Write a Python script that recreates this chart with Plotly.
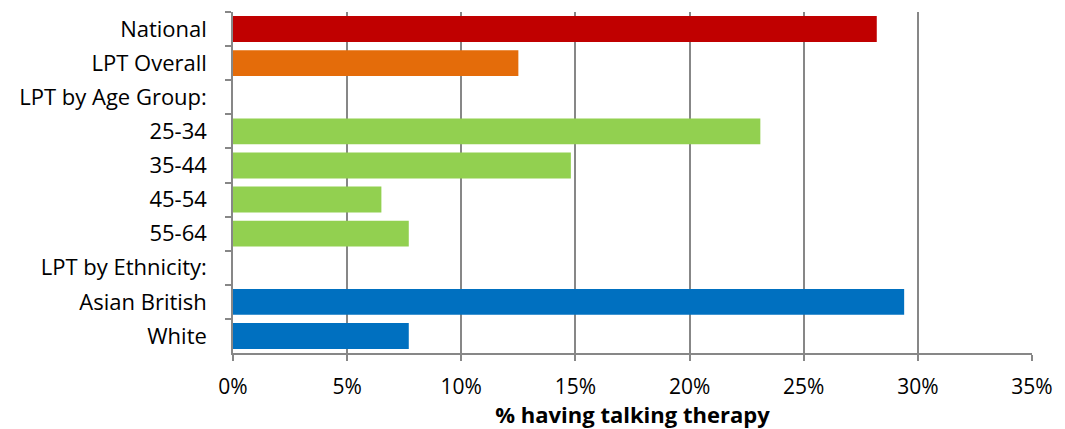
import plotly.graph_objects as go

categories = ["National", "LPT Overall", "LPT by Age Group:", "25-34", "35-44",
              "45-54", "55-64", "LPT by Ethnicity:", "Asian British", "White"]
values = [0.282, 0.125, None, 0.231, 0.148, 0.065, 0.077, None, 0.294, 0.077]
colors = ["#C00000", "#E46C0A", "#FFFFFF", "#92D050", "#92D050",
          "#92D050", "#92D050", "#FFFFFF", "#0070C0", "#0070C0"]
x_ticks = [0, 0.05, 0.10, 0.15, 0.20, 0.25, 0.30, 0.35]
x_title = "% having talking therapy"

font_family = "'Open Sans', Lato, sans-serif"
grid_col = "#878787"

fig = go.Figure(go.Bar(
    x=values, y=categories, orientation="h",
    marker=dict(color=colors, line=dict(width=0)),
    hoverinfo="x+y",
))

fig.update_layout(
    width=1065, height=429,
    margin=dict(l=233, r=30, t=12, b=76),
    paper_bgcolor="white", plot_bgcolor="white",
    bargap=0.24,
    showlegend=False,
    font=dict(family=font_family, size=22, color="#000000"),
)

fig.update_xaxes(
    range=[0, 0.35], tickvals=x_ticks, tickformat=".0%",
    showgrid=True, gridcolor=grid_col, gridwidth=1.5,
    showline=True, linecolor=grid_col, linewidth=1.5,
    ticks="outside", ticklen=6, tickcolor=grid_col, tickwidth=1.5,
    ticklabelstandoff=8,
    tickfont=dict(size=21), zeroline=False,
    title=dict(text="<b>" + x_title + "</b>", font=dict(size=22), standoff=0),
)

fig.update_yaxes(
    categoryorder="array", categoryarray=categories, autorange="reversed",
    showline=True, linecolor=grid_col, linewidth=1.5,
    ticks="outside", ticklen=6, tickcolor=grid_col, tickwidth=1.5,
    tickson="boundaries", ticklabelstandoff=20,
    tickfont=dict(size=22), showgrid=False,
)

fig.write_html("out.html")
